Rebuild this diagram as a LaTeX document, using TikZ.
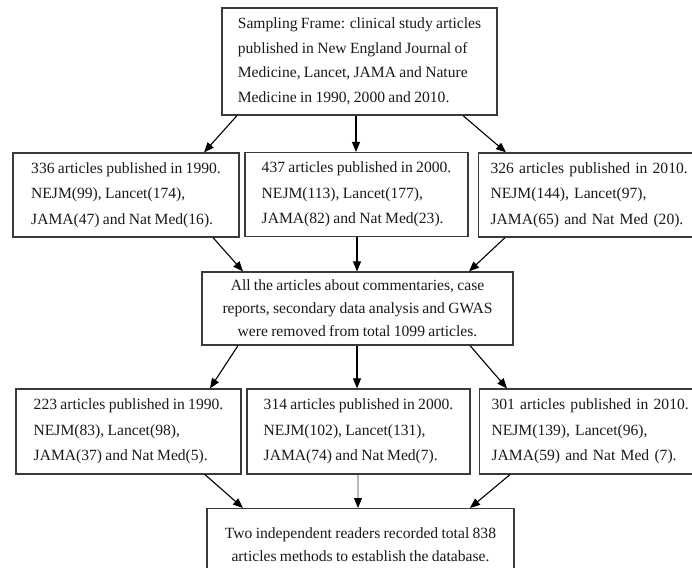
\documentclass[tikz,border=0pt]{standalone}
\usepackage{fontspec}
\setmainfont{Liberation Serif}[WordSpace={0.85,0.5,0.3}]
\usetikzlibrary{arrows.meta,calc}
\definecolor{boxline}{HTML}{3A3A3A}
\definecolor{txt}{HTML}{1A1A1A}
\tikzset{
  box/.style={draw=boxline, line width=1.2pt, rectangle, inner sep=0pt, align=left,
    text=txt, font=\fontsize{15.6}{25.5}\selectfont},
  rbox/.style={box, anchor=west, inner xsep=12pt, text width=213pt},
  cbox/.style={box, align=center, font=\fontsize{15.6}{23}\selectfont},
  conn/.style={draw=black, line width=1.1pt, -{Triangle[length=10pt,width=8pt]}},
  gconn/.style={draw=gray!55, line width=1.1pt, -{Triangle[length=10pt,width=8pt,color=black]}}
}
\begin{document}
\begin{tikzpicture}[x=1pt,y=-1pt]
\useasboundingbox (0,0) rectangle (692,567);
\clip (0,0) rectangle (692,567);
\fill[white] (0,0) rectangle (692,567);

\node[box, minimum width=275pt, minimum height=107pt, font=\fontsize{15.6}{24.5}\selectfont] (top) at (359.5,61.5)
  {Sampling Frame: clinical study articles\\published in New England Journal of\\Medicine, Lancet, JAMA and Nature\\Medicine in 1990, 2000 and 2010.};

\node[box, minimum width=226pt, minimum height=84pt] (r1a) at (126,195)
  {336 articles published in 1990.\\NEJM(99), Lancet(174),\\JAMA(47) and Nat Med(16).};
\node[box, minimum width=223pt, minimum height=84pt] (r1b) at (356.5,194.5)
  {437 articles published in 2000.\\NEJM(113), Lancet(177),\\JAMA(82) and Nat Med(23).};
\node[rbox, minimum height=84pt] (r1c) at (478,195)
  {326 articles published in 2010.\\NEJM(144), Lancet(97),\\JAMA(65) and Nat Med (20).};

\node[cbox, minimum width=311pt, minimum height=73pt] (mid) at (357.5,308.5)
  {All the articles about commentaries, case\\reports, secondary data analysis and GWAS\\were removed from total 1099 articles.};

\node[box, minimum width=225pt, minimum height=85pt] (r2a) at (128.5,431.5)
  {223 articles published in 1990.\\NEJM(83), Lancet(98),\\JAMA(37) and Nat Med(5).};
\node[box, minimum width=223pt, minimum height=85pt] (r2b) at (358.5,431.5)
  {314 articles published in 2000.\\NEJM(102), Lancet(131),\\JAMA(74) and Nat Med(7).};
\node[rbox, minimum height=85pt] (r2c) at (479,431.5)
  {301 articles published in 2010.\\NEJM(139), Lancet(96),\\JAMA(59) and Nat Med (7).};

\node[cbox, minimum width=307pt, minimum height=72pt, anchor=north] (bot) at (360.5,508)
  {Two independent readers recorded total 838\\articles methods to establish the database.};

% connectors
\draw[conn] ([xshift=-122.5pt]top.south) -- ([xshift=78pt]r1a.north);
\draw[conn] ([xshift=-3.5pt]top.south) -- ([xshift=-0.5pt]r1b.north);
\draw[conn] ([xshift=103.5pt]top.south) -- ([xshift=28pt]r1c.north west);

\draw[conn] ([xshift=87pt]r1a.south) -- ([xshift=-114.5pt]mid.north);
\draw[conn] ([xshift=0.5pt]r1b.south) -- ([xshift=-0.5pt]mid.north);
\draw[conn] ([xshift=27pt]r1c.south west) -- ([xshift=111.5pt]mid.north);

\draw[conn] ([xshift=-119.5pt]mid.south) -- ([xshift=81.5pt]r2a.north);
\draw[conn] ([xshift=-0.5pt]mid.south) -- ([xshift=-1.5pt]r2b.north);
\draw[conn] ([xshift=112.5pt]mid.south) -- ([xshift=28pt]r2c.north west);

\draw[conn] ([xshift=76.5pt]r2a.south) -- ([xshift=-117.5pt]bot.north);
\draw[gconn] ([xshift=-0.5pt]r2b.south) -- ([xshift=-2.5pt]bot.north);
\draw[conn] ([xshift=31pt]r2c.south west) -- ([xshift=109.5pt]bot.north);
\end{tikzpicture}
\end{document}
